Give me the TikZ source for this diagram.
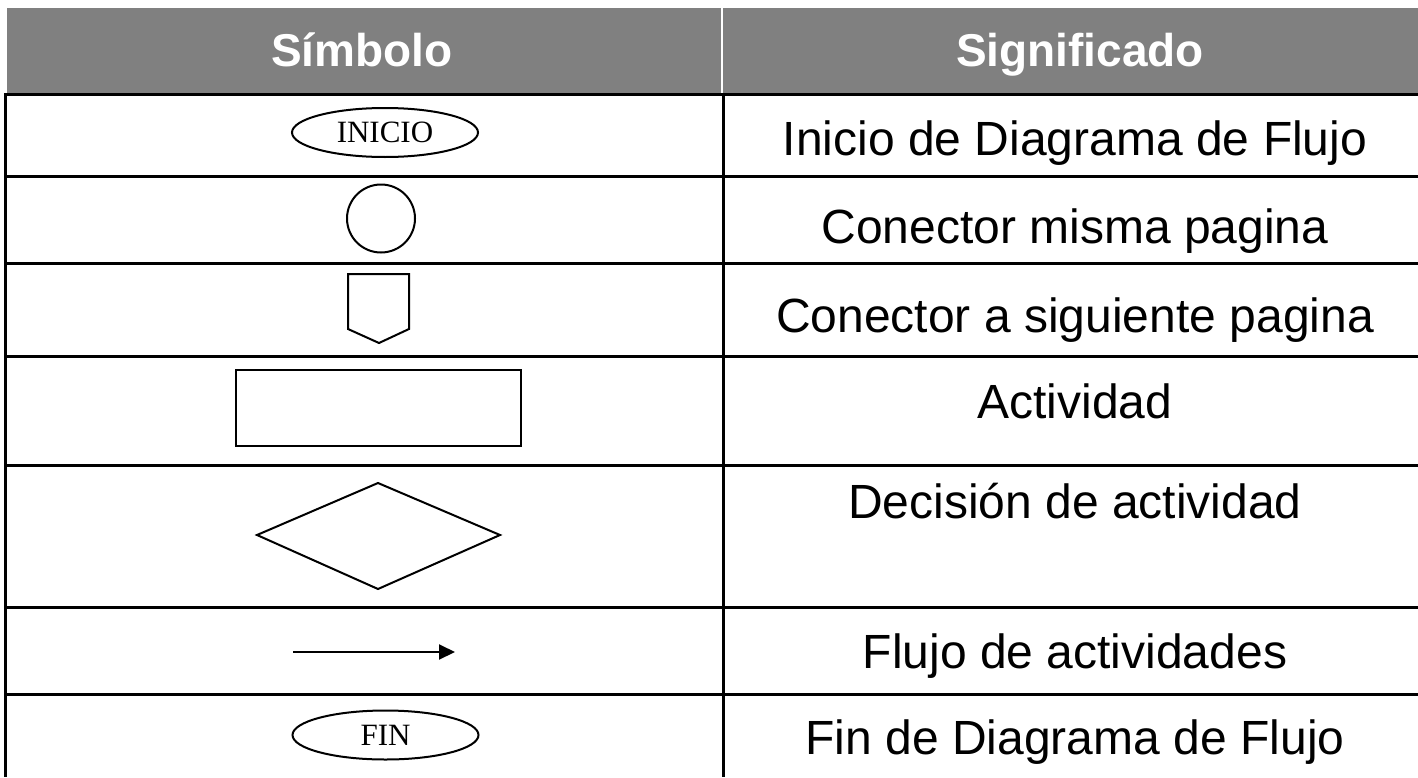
\documentclass[tikz,border=0pt]{standalone}
\usepackage{fontspec}
\setmainfont{Liberation Sans}
\newfontfamily\symserif{Liberation Serif}
\usetikzlibrary{shapes.geometric,arrows.meta}
\definecolor{hdrgray}{HTML}{808080}
\begin{document}
\begin{tikzpicture}[x=1bp,y=-1bp,
  gridline/.style={line width=3bp, black},
  sym/.style={draw=black, line width=2bp},
  hdr/.style={anchor=base, text=white, font=\fontsize{46bp}{52bp}\selectfont\bfseries, inner sep=0pt},
  meaning/.style={anchor=base, font=\fontsize{48bp}{54bp}\selectfont, inner sep=0pt},
  term/.style={sym, ellipse, minimum width=186bp, minimum height=49bp, inner sep=0pt, font=\symserif\fontsize{31bp}{35bp}\selectfont}
]
\useasboundingbox (0,0) rectangle (1418,777);
% header
\fill[hdrgray] (7,8) rectangle (1418,94);
\draw[white, line width=2bp] (722,8) -- (722,94);
\node[hdr] (h1) at (362,67) {Símbolo};
\node[hdr] (h2) at (1080,67) {Significado};
% grid
\foreach \yy in {94,176,263,356,465,607,694} {\draw[gridline] (4,\yy) -- (1418,\yy);}
\draw[gridline] (5,93) -- (5,777);
\draw[gridline] (723,93) -- (723,777);
% symbols
\node[term] (inicio) at (385,132.5) {INICIO};
\node[sym, circle, minimum size=68bp, inner sep=0pt] (conmisma) at (381,218.5) {};
\draw[sym] (348,274) -- (409,274) -- (409,329) -- (379,343) -- (348,329) -- cycle;
\node[sym, rectangle, minimum width=285bp, minimum height=76bp, inner sep=0pt] (actividad) at (378.5,408) {};
\draw[sym] (257,535) -- (378,483) -- (500,535) -- (378,589) -- cycle;
\coordinate (fa) at (293,652);
\coordinate (fb) at (455,652);
\draw[line width=2bp, -{Triangle[length=16bp,width=15bp]}] (fa) -- (fb);
\node[term] (fin) at (385.5,735) {FIN};
% meanings
\node[meaning] (m1) at (1075,155) {Inicio de Diagrama de Flujo};
\node[meaning] (m2) at (1075,243) {Conector misma pagina};
\node[meaning] (m3) at (1075,332) {Conector a siguiente pagina};
\node[meaning] (m4) at (1075,418) {Actividad};
\node[meaning] (m5) at (1075,518) {Decisión de actividad};
\node[meaning] (m6) at (1075,668) {Flujo de actividades};
\node[meaning] (m7) at (1075,754) {Fin de Diagrama de Flujo};
\end{tikzpicture}
\end{document}
